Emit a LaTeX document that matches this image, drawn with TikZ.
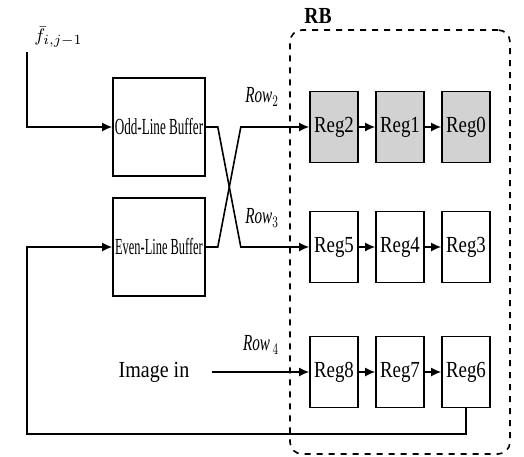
\documentclass[tikz,border=0pt]{standalone}
\usepackage{fontspec}
\usepackage{graphicx}
\setmainfont{Liberation Serif}
\usetikzlibrary{positioning,arrows.meta}
\newcommand{\squeeze}[2]{\scalebox{#1}[1]{#2}}

\begin{document}
\begin{tikzpicture}[x=0.5pt, y=-0.5pt, font=\fontsize{11.5}{13}\selectfont,
  reg/.style={draw, thick, minimum width=24pt, minimum height=35.5pt, inner sep=0pt},
  buf/.style={draw, thick, minimum width=46pt, minimum height=49pt, inner sep=0pt},
  arr/.style={-{Latex[length=5pt,width=4.5pt]}, thick}]
\useasboundingbox (0,0) rectangle (524,456);
% register block
\node[draw, dashed, thick, rounded corners=6pt, minimum width=110pt, minimum height=212pt, inner sep=0pt] (rb) at (400,242) {};
\node (rblab) at (318,16) {\squeeze{0.85}{\textbf{RB}}};
% line buffers
\node[buf] (odd) at (159,127) {\squeeze{0.57}{Odd-Line Buffer}};
\node[buf] (even) at (159,247) {\squeeze{0.54}{Even-Line Buffer}};
% registers
\foreach \n/\x/\y/\c in {2/334/127/gray!35, 1/400/127/gray!35, 0/466/127/gray!35,
                         5/334/247/white, 4/400/247/white, 3/466/247/white,
                         8/334/372/white, 7/400/372/white, 6/466/372/white}
  \node[reg, fill=\c] (r\n) at (\x,\y) {\squeeze{0.82}{Reg\n}};
\foreach \a/\b in {2/1, 1/0, 5/4, 4/3, 8/7, 7/6} \draw[arr] (r\a) -- (r\b);
% row labels
\node (row2) at (262,97) {\squeeze{0.66}{\textit{Row}$_2$}};
\node (row3) at (262,218) {\squeeze{0.66}{\textit{Row}$_3$}};
\node (row4) at (261,345) {\squeeze{0.66}{\textit{Row}\,$_4$}};
% crossed buffer outputs
\draw[arr] (odd.east) -- ++(12,0) -- ++(23,120) -- (r5);
\draw[arr] (even.east) -- ++(12,0) -- ++(23,-120) -- (r2);
% image input
\node (img) at (154,372) {\squeeze{0.87}{Image in}};
\draw[arr] ([xshift=8pt]img.east) -- (r8);
% feedback and previous line input
\coordinate (fb) at (27,434);
\draw[arr] (r6.south) |- (fb) |- (even.west);
\coordinate (fin) at (27,52);
\node[anchor=south west, inner sep=1pt, font=\fontsize{9.5}{11}\selectfont] (flab) at (32,50) {$\bar{f}_{i,j-1}$};
\draw[arr] (fin) |- (odd.west);
\end{tikzpicture}
\end{document}
